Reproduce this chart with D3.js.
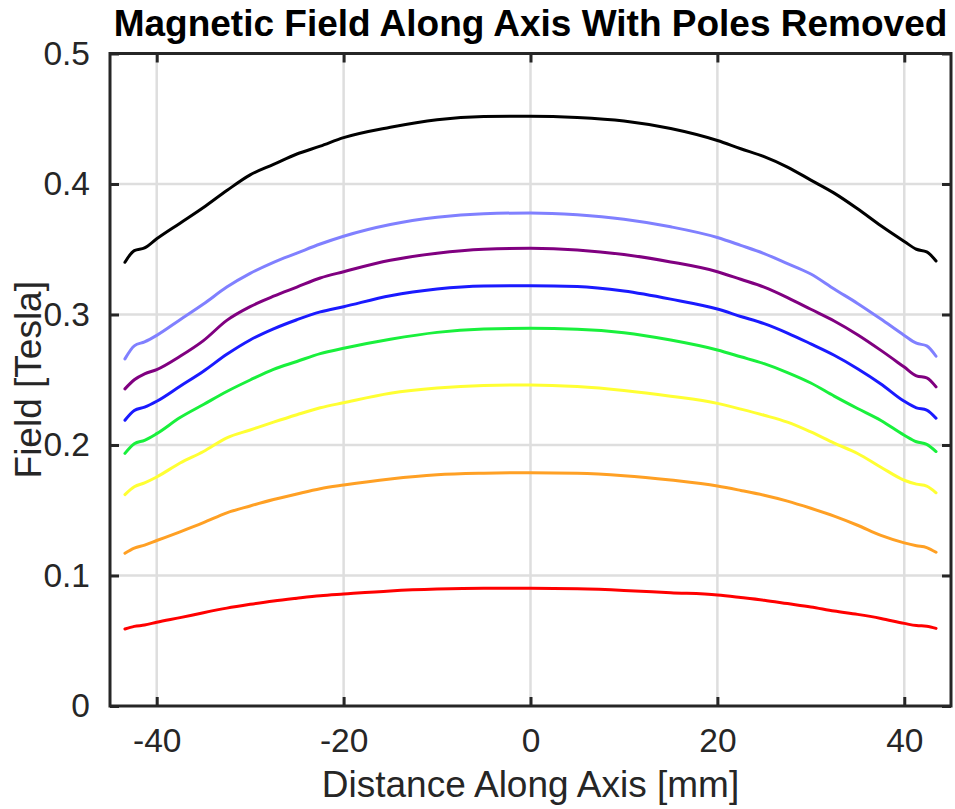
<!DOCTYPE html>
<html>
<head>
<meta charset="utf-8">
<script src="https://cdn.jsdelivr.net/npm/d3@7"></script>
<style>
  body { margin: 0; background: #fff; }
  svg { display: block; font-family: "Liberation Sans", Arial, Helvetica, sans-serif; }
</style>
</head>
<body>
<div id="chart"></div>
<script>
// Distance along axis [mm]
var distance = [-43.4,-42.4,-41.3,-40,-37.5,-35,-32.5,-30,-27.5,-25,-22.5,-20,-15,-10,-5,0,
                5,10,15,20,22.5,25,27.5,30,32.5,35,37.5,40,41.3,42.4,43.4];

// Field [Tesla], one array per curve (top to bottom)
var fieldBlack = [0.340,0.349,0.351,0.358,0.370,0.382,0.395,0.407,0.415,0.423,0.429,0.4355,0.4435,0.4493,0.4517,0.452,
                  0.451,0.4483,0.4425,0.4333,0.427,0.421,0.413,0.403,0.393,0.381,0.368,0.356,0.350,0.348,0.341];
var fieldLightBlue = [0.266,0.276,0.279,0.284,0.296,0.308,0.321,0.3315,0.340,0.347,0.354,0.360,0.369,0.3745,0.3772,0.3778,
                      0.3764,0.373,0.3672,0.359,0.353,0.3467,0.339,0.331,0.3195,0.3085,0.2965,0.284,0.278,0.276,0.268];
var fieldPurple = [0.243,0.250,0.2545,0.2578,0.268,0.280,0.2955,0.306,0.314,0.321,0.328,0.3328,0.3415,0.347,0.350,0.3507,
                   0.3495,0.346,0.3403,0.3328,0.327,0.321,0.313,0.304,0.295,0.2845,0.2725,0.2597,0.253,0.2515,0.2445];
var fieldBlue = [0.219,0.2265,0.229,0.2335,0.245,0.2565,0.2695,0.2805,0.289,0.296,0.302,0.306,0.3144,0.3195,0.3218,0.3221,
                 0.3215,0.318,0.3118,0.3042,0.2985,0.293,0.2858,0.2775,0.2688,0.2585,0.2468,0.2335,0.2285,0.2268,0.2205];
var fieldGreen = [0.1936,0.201,0.2036,0.2087,0.221,0.231,0.241,0.2498,0.258,0.264,0.270,0.2741,0.281,0.2863,0.2888,0.2894,
                  0.2887,0.286,0.2804,0.2728,0.2676,0.2623,0.2555,0.2475,0.2375,0.228,0.2188,0.2075,0.2025,0.2005,0.195];
var fieldYellow = [0.162,0.168,0.171,0.1755,0.1862,0.195,0.2055,0.2115,0.2175,0.2232,0.2285,0.2324,0.2397,0.2437,0.2456,0.246,
                   0.2448,0.2418,0.2374,0.2319,0.2275,0.2228,0.2175,0.210,0.2015,0.1935,0.183,0.173,0.170,0.1685,0.1634];
var fieldOrange = [0.117,0.121,0.1233,0.1268,0.1335,0.1405,0.148,0.1533,0.1582,0.1625,0.1665,0.1693,0.174,0.1772,0.1784,0.1788,
                   0.1784,0.1765,0.1731,0.1686,0.1652,0.1615,0.157,0.1515,0.1455,0.1385,0.1307,0.125,0.1228,0.1214,0.1178];
var fieldRed = [0.059,0.061,0.062,0.0642,0.0677,0.0715,0.075,0.0779,0.0805,0.0826,0.0845,0.0858,0.0882,0.0896,0.0902,0.0902,
                0.0898,0.0886,0.0868,0.0851,0.0832,0.0811,0.0785,0.0759,0.0728,0.0702,0.0671,0.0633,0.0616,0.0612,0.0595];

var seriesValues = [fieldBlack, fieldLightBlue, fieldPurple, fieldBlue, fieldGreen, fieldYellow, fieldOrange, fieldRed];
var seriesColors = ['#000000', '#8080ff', '#800080', '#1a1aff', '#19f03c', '#ffff33', '#ffa024', '#ff0000'];

var xTicks = [-40, -20, 0, 20, 40];
var yTicks = [0, 0.1, 0.2, 0.3, 0.4, 0.5];

var W = 955, H = 809;
var margin = {top: 53.5, right: 4, bottom: 103, left: 110};
var w = W - margin.left - margin.right;
var h = H - margin.top - margin.bottom;

var svg = d3.select('#chart').append('svg')
  .attr('width', W).attr('height', H)
  .attr('xmlns', 'http://www.w3.org/2000/svg');

var g = svg.append('g')
  .attr('transform', 'translate(' + margin.left + ',' + margin.top + ')');

var x = d3.scaleLinear().domain([-45, 45]).range([0, w]);
var y = d3.scaleLinear().domain([0, 0.5]).range([h, 0]);

var axisColor = '#262626';
var gridColor = '#dedede';

// grid
g.append('g').selectAll('line').data(xTicks).enter().append('line')
  .attr('x1', function(d) { return x(d); }).attr('x2', function(d) { return x(d); })
  .attr('y1', 0).attr('y2', h)
  .attr('stroke', gridColor).attr('stroke-width', 2.5);
g.append('g').selectAll('line').data(yTicks.slice(1, -1)).enter().append('line')
  .attr('y1', function(d) { return y(d); }).attr('y2', function(d) { return y(d); })
  .attr('x1', 0).attr('x2', w)
  .attr('stroke', gridColor).attr('stroke-width', 2.5);

// curves
var line = d3.line()
  .x(function(d) { return x(d[0]); })
  .y(function(d) { return y(d[1]); })
  .curve(d3.curveMonotoneX);

seriesValues.forEach(function(vals, i) {
  g.append('path')
    .datum(distance.map(function(d, j) { return [d, vals[j]]; }))
    .attr('d', line)
    .attr('fill', 'none')
    .attr('stroke', seriesColors[i])
    .attr('stroke-width', 3)
    .attr('stroke-linejoin', 'round')
    .attr('stroke-linecap', 'round');
});

// axes (ticks inward, box on)
var tickLen = 9;
function styleAxis(sel) {
  sel.select('.domain').remove();
  sel.selectAll('.tick line').attr('stroke', axisColor).attr('stroke-width', 3);
  sel.selectAll('.tick text').attr('fill', axisColor)
    .style('font-size', '33.5px').style('font-family', '"Liberation Sans", Arial, sans-serif');
}

var xAxis = g.append('g').attr('transform', 'translate(0,' + h + ')')
  .call(d3.axisBottom(x).tickValues(xTicks).tickSizeInner(-tickLen).tickSizeOuter(0).tickPadding(22)
    .tickFormat(d3.format('d')));
styleAxis(xAxis);
xAxis.selectAll('.tick text').text(function(d) { return d < 0 ? '-' + Math.abs(d) : d; });

var xAxisTop = g.append('g')
  .call(d3.axisTop(x).tickValues(xTicks).tickSizeInner(-tickLen).tickSizeOuter(0).tickFormat(''));
styleAxis(xAxisTop);

var yAxis = g.append('g')
  .call(d3.axisLeft(y).tickValues(yTicks).tickSizeInner(-tickLen).tickSizeOuter(0).tickPadding(20)
    .tickFormat(function(d) { return d === 0 ? '0' : d3.format('.1f')(d); }));
styleAxis(yAxis);

var yAxisRight = g.append('g').attr('transform', 'translate(' + w + ',0)')
  .call(d3.axisRight(y).tickValues(yTicks).tickSizeInner(-tickLen).tickSizeOuter(0).tickFormat(''));
styleAxis(yAxisRight);

// frame
g.append('rect')
  .attr('x', 0).attr('y', 0).attr('width', w).attr('height', h)
  .attr('fill', 'none').attr('stroke', axisColor).attr('stroke-width', 3);

// title and labels
svg.append('text')
  .attr('x', margin.left + w / 2).attr('y', 36)
  .attr('text-anchor', 'middle')
  .style('font-size', '37px').style('font-weight', 'bold').attr('fill', '#000')
  .text('Magnetic Field Along Axis With Poles Removed');

svg.append('text')
  .attr('x', margin.left + w / 2).attr('y', 797)
  .attr('text-anchor', 'middle')
  .style('font-size', '37px').attr('fill', axisColor)
  .text('Distance Along Axis [mm]');

svg.append('text')
  .attr('transform', 'translate(41,' + (margin.top + h / 2) + ') rotate(-90)')
  .attr('text-anchor', 'middle')
  .style('font-size', '37px').attr('fill', axisColor)
  .text('Field [Tesla]');
</script>
</body>
</html>
